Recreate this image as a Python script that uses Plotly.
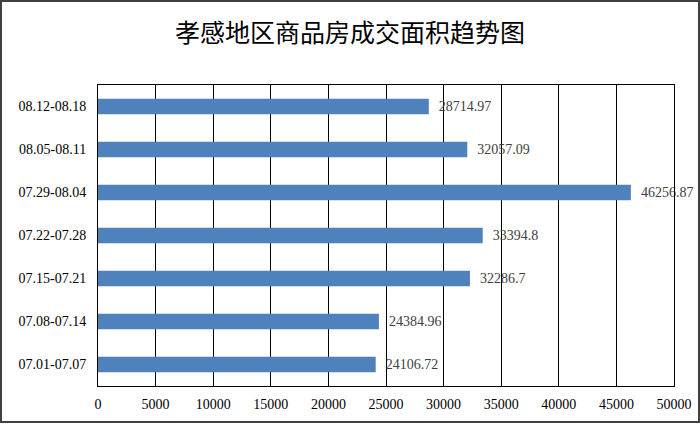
import plotly.graph_objects as go

categories = ["07.01-07.07", "07.08-07.14", "07.15-07.21", "07.22-07.28",
              "07.29-08.04", "08.05-08.11", "08.12-08.18"]
values = [24106.72, 24384.96, 32286.7, 33394.8, 46256.87, 32057.09, 28714.97]
labels = ["24106.72", "24384.96", "32286.7", "33394.8", "46256.87", "32057.09", "28714.97"]
x_ticks = [0, 5000, 10000, 15000, 20000, 25000, 30000, 35000, 40000, 45000, 50000]

W, H = 700, 424
ml, mr, mt, mb = 98, 26, 85, 38
pw, ph = W - ml - mr, H - mt - mb

fig = go.Figure(go.Bar(
    x=values, y=categories, orientation="h",
    marker=dict(color="#4F81BD", line=dict(width=0)),
    width=0.36,
    text=["  " + t for t in labels], textposition="outside",
    textfont=dict(family="Liberation Serif", size=14, color="#404040"),
    cliponaxis=False,
))

fig.update_layout(
    width=W, height=H,
    margin=dict(l=ml, r=mr, t=mt, b=mb, autoexpand=False),
    paper_bgcolor="white", plot_bgcolor="white",
    showlegend=False,
    title=dict(text="孝感地区商品房成交面积趋势图", x=0.5, xanchor="center",
               y=1 - 33 / H, yanchor="middle",
               font=dict(family="Noto Sans CJK SC", size=25, color="#000000")),
    xaxis=dict(range=[0, 50000], tickvals=x_ticks, ticktext=[str(v) for v in x_ticks],
               automargin=False,
               showgrid=True, gridcolor="#000000", gridwidth=1,
               showline=True, linecolor="#000000", linewidth=1, mirror=True,
               zeroline=False, ticks="", ticklabelstandoff=5,
               tickfont=dict(family="Liberation Serif", size=14, color="#000000")),
    yaxis=dict(showgrid=False, showline=True, linecolor="#000000", linewidth=1,
               automargin=False,
               mirror=True, ticks="", ticklabelstandoff=8,
               tickfont=dict(family="Liberation Serif", size=14, color="#000000")),
    shapes=[dict(type="rect", xref="paper", yref="paper",
                 x0=(1 - ml) / pw, x1=(W - 1 - ml) / pw,
                 y0=(mt + ph - (H - 2)) / ph, y1=(mt + ph - 1) / ph,
                 line=dict(color="#404040", width=2), fillcolor="rgba(0,0,0,0)",
                 layer="above")],
)

fig.write_html("out.html", config={"displayModeBar": False},
               post_script="document.body.style.margin='0';document.body.style.overflow='hidden';")
